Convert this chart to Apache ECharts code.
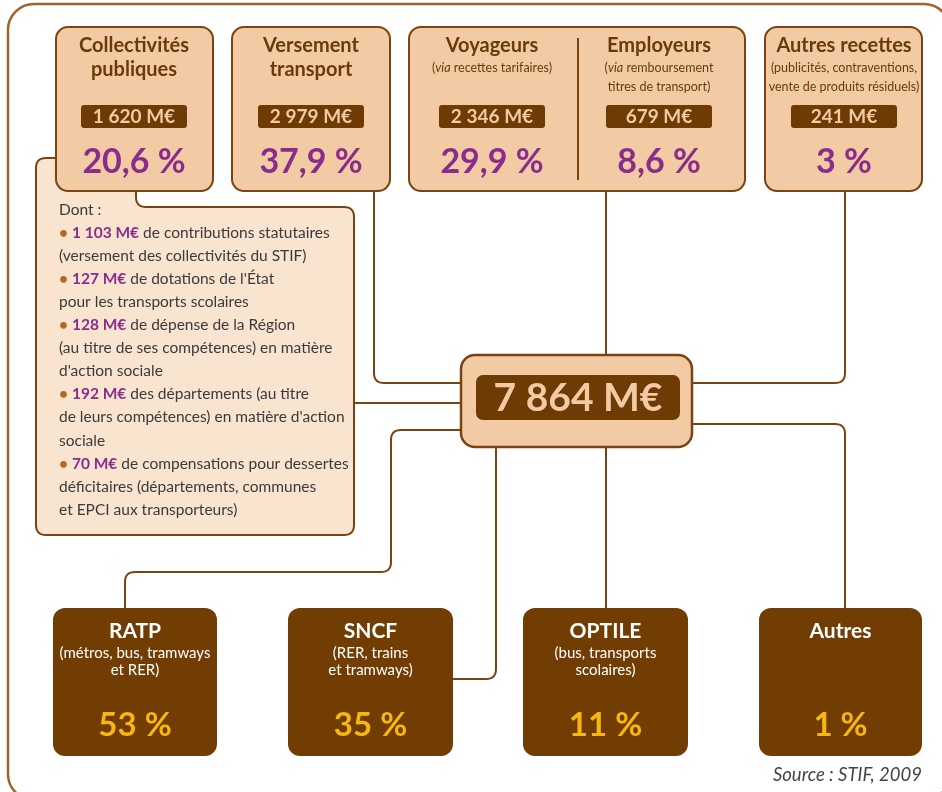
<!DOCTYPE html>
<html>
<head>
<meta charset="utf-8">
<script src="https://cdn.jsdelivr.net/npm/echarts@6/dist/echarts.min.js"></script>
<style>
  html, body { margin: 0; padding: 0; background: #fff; }
  #chart { width: 942px; height: 792px; }
</style>
</head>
<body>
<div id="chart"></div>
<script>
// financeurs
const sourceNames = [['Collectivités', 'publiques'], ['Versement', 'transport'], ['Voyageurs'], ['Employeurs'], ['Autres recettes']];
const sourceNotes = [[], [], ['({i|via} recettes tarifaires)'], ['({i|via} remboursement', 'titres de transport)'], ['(publicités, contraventions,', 'vente de produits résiduels)']];
const sourceAmounts = ['1 620', '2 979', '2 346', '679', '241'];
const sourceShares = ['20,6', '37,9', '29,9', '8,6', '3'];
const totalAmount = '7 864';

// détail collectivités
const detailAmounts = ['1 103', '127', '128', '192', '70'];
const detailLines = [
  ['de contributions statutaires', '(versement des collectivités du STIF)'],
  ["de dotations de l'État", 'pour les transports scolaires'],
  ['de dépense de la Région', '(au titre de ses compétences) en matière', "d'action sociale"],
  ['des départements (au titre', "de leurs compétences) en matière d'action", 'sociale'],
  ['de compensations pour dessertes', 'déficitaires (départements, communes', 'et EPCI aux transporteurs)']
];

// transporteurs
const operatorNames = ['RATP', 'SNCF', 'OPTILE', 'Autres'];
const operatorNotes = [['(métros, bus, tramways', 'et RER)'], ['(RER, trains', 'et tramways)'], ['(bus, transports', 'scolaires)'], []];
const operatorShares = ['53', '35', '11', '1'];

const sourceText = 'Source : STIF, 2009';

// couleurs
const C = {
  frame: '#a2622e', line: '#7b4311', boxFill: '#f2cba5', title: '#6b3a0a',
  badge: '#6f3b05', purple: '#8a2c8c', dontFill: '#f9e4d0', dark: '#723d02',
  gold: '#f6b80e', txt: '#3a3a3a', bullet: '#b5681f'
};
const FONT = 'Lato';

// mise en page
const topBoxes = [[56, 27, 157, 164], [232, 27, 158, 164], [409, 27, 336, 164], [765, 27, 157, 164]];
const sourceCx = [134, 311, 492, 659, 844];
const badgeW = [106, 106, 106, 106, 106];
const botBoxes = [[53, 608, 164, 148], [288, 608, 165, 148], [523, 608, 165, 148], [759, 608, 163, 148]];

function rounded(pts, r, closed) {
  const out = [];
  const n = pts.length;
  for (let i = 0; i < n; i++) {
    const p = pts[i];
    const isEnd = !closed && (i === 0 || i === n - 1);
    if (isEnd) { out.push(p); continue; }
    const a = pts[(i - 1 + n) % n], b = pts[(i + 1) % n];
    const d1 = Math.hypot(p[0] - a[0], p[1] - a[1]), d2 = Math.hypot(b[0] - p[0], b[1] - p[1]);
    const rr = Math.min(r, d1 / 2, d2 / 2);
    const s = [p[0] + (a[0] - p[0]) * rr / d1, p[1] + (a[1] - p[1]) * rr / d1];
    const e = [p[0] + (b[0] - p[0]) * rr / d2, p[1] + (b[1] - p[1]) * rr / d2];
    for (let k = 0; k <= 8; k++) {
      const t = k / 8;
      out.push([
        (1 - t) * (1 - t) * s[0] + 2 * (1 - t) * t * p[0] + t * t * e[0],
        (1 - t) * (1 - t) * s[1] + 2 * (1 - t) * t * p[1] + t * t * e[1]
      ]);
    }
  }
  return out;
}

function txt(x, y, text, size, color, weight, align, extra) {
  return {
    type: 'text', x: x, y: y, z: 10,
    style: Object.assign({
      text: text, fill: color, font: (weight || 'normal') + ' ' + size + 'px ' + FONT,
      textAlign: align || 'center', textVerticalAlign: 'middle'
    }, extra || {})
  };
}

function connector(pts, r) {
  return { type: 'polyline', z: 2, shape: { points: rounded(pts, r || 10, false) }, style: { stroke: C.line, lineWidth: 2, fill: null } };
}

const els = [];

// cadre
els.push({ type: 'rect', z: 0, shape: { x: 8, y: 4, width: 942, height: 796, r: 26 }, style: { fill: '#fff', stroke: C.frame, lineWidth: 2.5 } });

// connecteurs
els.push(connector([[374, 191], [374, 383], [461, 383]]));
els.push(connector([[606, 191], [606, 355]]));
els.push(connector([[845, 191], [845, 383], [692, 383]]));
els.push(connector([[354, 403], [461, 403]]));
els.push(connector([[461, 430], [391, 430], [391, 572], [125, 572], [125, 608]]));
els.push(connector([[496, 447], [496, 679], [453, 679]]));
els.push(connector([[606, 447], [606, 608]]));
els.push(connector([[692, 424], [845, 424], [845, 608]]));

// encadré détail
els.push({
  type: 'polygon', z: 3,
  shape: { points: rounded([[36, 158], [136, 158], [136, 207], [354, 207], [354, 535], [36, 535]], 10, true) },
  style: { fill: C.dontFill, stroke: C.line, lineWidth: 2 }
});
let ly = 210;
const lh = 23.05;
const DS = 15.5;
els.push(txt(59, ly, 'Dont :', DS, C.txt, 'normal', 'left'));
detailAmounts.forEach(function (amt, i) {
  detailLines[i].forEach(function (line, j) {
    ly += lh;
    const t = j === 0 ? '{b|•} {a|' + amt + ' M€} ' + line : line;
    els.push(txt(59, ly, t, DS, C.txt, 'normal', 'left', {
      rich: {
        a: { fill: C.purple, font: 'bold ' + DS + 'px ' + FONT },
        b: { fill: C.bullet, font: 'bold ' + DS + 'px ' + FONT }
      }
    }));
  });
});

// boîtes financeurs
topBoxes.forEach(function (b) {
  els.push({ type: 'rect', z: 4, shape: { x: b[0], y: b[1], width: b[2], height: b[3], r: 12 }, style: { fill: C.boxFill, stroke: C.line, lineWidth: 2 } });
});
els.push({ type: 'line', z: 5, shape: { x1: 578, y1: 38, x2: 578, y2: 180 }, style: { stroke: C.line, lineWidth: 2 } });

sourceNames.forEach(function (name, i) {
  const cx = sourceCx[i];
  name.forEach(function (l, j) { els.push(txt(cx, 46 + j * 24, l, 20, C.title, 'bold')); });
  sourceNotes[i].forEach(function (l, j) {
    els.push(txt(cx, 68 + j * 18.5, l, 12.5, C.title, 'normal', 'center', { rich: { i: { fill: C.title, font: 'italic 12.5px ' + FONT } } }));
  });
  els.push({ type: 'rect', z: 6, shape: { x: cx - badgeW[i] / 2, y: 105, width: badgeW[i], height: 23, r: 3 }, style: { fill: C.badge } });
  els.push(txt(cx, 117, sourceAmounts[i] + ' M€', 19, C.boxFill, 'bold'));
  els.push(txt(cx, 162, sourceShares[i] + ' %', 34, C.purple, 'bold'));
});

// total
els.push({ type: 'rect', z: 6, shape: { x: 461, y: 355, width: 231, height: 92, r: 14 }, style: { fill: C.boxFill, stroke: C.line, lineWidth: 2.5 } });
els.push({ type: 'rect', z: 7, shape: { x: 476, y: 375, width: 204, height: 45, r: 7 }, style: { fill: C.badge } });
els.push(txt(578, 398, totalAmount + ' M€', 39, C.boxFill, 'bold'));

// transporteurs
operatorNames.forEach(function (name, i) {
  const b = botBoxes[i];
  const cx = b[0] + b[2] / 2;
  els.push({ type: 'rect', z: 4, shape: { x: b[0], y: b[1], width: b[2], height: b[3], r: 12 }, style: { fill: C.dark } });
  els.push(txt(cx, 631, name, 21, '#fff', 'bold'));
  operatorNotes[i].forEach(function (l, j) { els.push(txt(cx, 653 + j * 17.5, l, 15, '#fff')); });
  els.push(txt(cx, 725, operatorShares[i] + ' %', 33, C.gold, 'bold'));
});

els.push(txt(922, 775, sourceText, 18.5, '#444', 'italic', 'right'));

const chart = echarts.init(document.getElementById('chart'));
chart.setOption({ animation: false, graphic: { elements: els } });
</script>
</body>
</html>
